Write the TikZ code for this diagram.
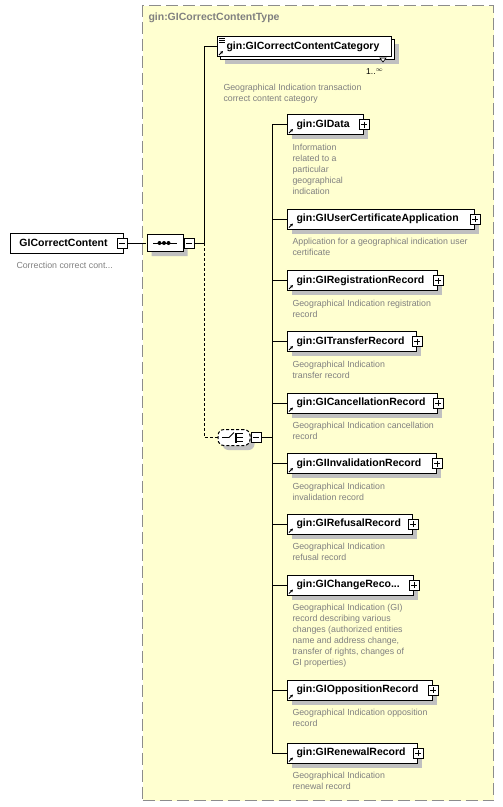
\documentclass[tikz,border=0pt]{standalone}
\usepackage{fontspec}
\setmainfont{Liberation Sans}
\usetikzlibrary{arrows.meta, positioning, shapes.misc, shadows}
\setlength{\parindent}{0pt}

\definecolor{typefill}{RGB}{255,255,208}
\definecolor{typeline}{RGB}{140,140,140}
\definecolor{descgray}{RGB}{128,128,128}
\definecolor{shadowgray}{RGB}{192,192,192}

\begin{document}
\begin{tikzpicture}[
  x=1pt, y=-1pt, line width=1pt,
  typebox/.style={draw=typeline, fill=typefill, dash pattern=on 12pt off 5pt, minimum width=351pt, minimum height=795pt, anchor=north west, inner sep=0pt},
  elem/.style={draw, fill=white, anchor=west, text width=#1, minimum height=20pt, inner xsep=0pt, inner ysep=0pt, align=left, font=\bfseries\fontsize{10.5}{12}\selectfont, execute at begin node={\hspace*{9pt}}},
  shade/.style={general shadow={fill=shadowgray, shadow xshift=4.5pt, shadow yshift=-4.5pt}},
  desc/.style={font=\fontsize{8.8}{11}\selectfont, text=descgray, align=left, inner sep=0pt},
  pm/.style={draw, fill=white, minimum size=10pt, inner sep=0pt, line width=0.8pt},
  plusbox/.style={pm, path picture={
    \draw ([xshift=2pt]path picture bounding box.west) -- ([xshift=-2pt]path picture bounding box.east)
          ([yshift=-2pt]path picture bounding box.north) -- ([yshift=2pt]path picture bounding box.south);}},
  minusbox/.style={pm, path picture={
    \draw ([xshift=2pt]path picture bounding box.west) -- ([xshift=-2pt]path picture bounding box.east);}},
  seqbox/.style={draw, fill=white, chamfered rectangle, chamfered rectangle xsep=5pt, chamfered rectangle ysep=5pt, minimum width=36pt, minimum height=17pt, inner sep=0pt},
  choicebox/.style={draw, fill=white, dash pattern=on 3pt off 2pt, rounded corners=6pt, minimum width=32pt, minimum height=16pt, inner sep=0pt},
  optline/.style={dash pattern=on 3pt off 2pt}
]
  \useasboundingbox (0,0) rectangle (503,807);

  % Complex type box
  \node[typebox] (ctype) at (142,5) {};
  \node[font=\bfseries\fontsize{10.5}{12}\selectfont, text=descgray, anchor=west, inner sep=0pt] (ctypelbl) at (148,18) {gin:GICorrectContentType};

  % Root element
  \node[elem=113] (root) at (10,243) {GICorrectContent};
  \node[minusbox] (root-m) at ([xshift=-2pt]root.east) {};
  \node[desc, below=8.5pt of root.south west, anchor=north west, xshift=6pt] (root-d) {Correction correct cont...};

  % Sequence
  \node[seqbox, shade] (seq) at (165,243) {};
  \draw ([xshift=-12pt]seq.center) -- ([xshift=12pt]seq.center);
  \foreach \dx in {-4.5,0,4.5}
    \fill ([xshift=\dx*1pt-1pt]seq.center) circle (2pt);
  \node[minusbox, anchor=west] (seq-m) at (seq.east) {};

  % Category (1..unbounded)
  \node[elem=174, shade] (catback) at (220,49.5) {};
  \node[elem=174] (cat) at (217,46.5) {gin:GICorrectContentCategory};
  \foreach \k in {2,4,6}
    \draw[line width=0.7pt] ([shift={(2pt,-\k*1pt)}]cat.north west) -- ++(6pt,0pt);
  \draw[fill=white, line width=0.6pt] ([shift={(-15pt,2pt)}]catback.south east) -- ++(6pt,0pt) -- ++(-3pt,-4pt) -- cycle;
  \node[font=\fontsize{8.5}{10}\selectfont, anchor=east, inner sep=0pt] (catocc) at ([shift={(-11pt,-11.5pt)}]catback.south east) {1..$^{\infty}$};
  \node[desc, below=27pt of cat.south west, anchor=north west, xshift=6pt] (cat-d) {Geographical Indication transaction\\correct content category};

  % Choice
  \node[choicebox, shade] (choice) at (234,437.5) {};
  \draw[line width=0.9pt] ([xshift=-12pt]choice.center) -- ++(7pt,0pt) -- ++(5pt,5pt);
  \draw[line width=1.4pt] ([shift={(2pt,-5pt)}]choice.center) -- ++(0pt,10pt);
  \foreach \dy in {-4,0,4}
    \draw[line width=0.9pt] ([shift={(2pt,\dy*1pt)}]choice.center) -- ++(7pt,0pt);
  \node[minusbox, anchor=west] (choice-m) at (choice.east) {};

  % Choice children
  \node[elem=76, shade] (gidata) at (287,124.5) {gin:GIData};
  \node[plusbox] (gidata-p) at (gidata.east) {};
  \node[desc, below=8.5pt of gidata.south west, anchor=north west, xshift=5pt] (gidata-d) {Information\\related to a\\particular\\geographical\\indication};

  \node[elem=187, shade] (giuser) at (287,219) {gin:GIUserCertificateApplication};
  \node[plusbox] (giuser-p) at (giuser.east) {};
  \node[desc, below=8.5pt of giuser.south west, anchor=north west, xshift=5pt] (giuser-d) {Application for a geographical indication user\\certificate};

  \node[elem=150, shade] (gireg) at (287,280.5) {gin:GIRegistrationRecord};
  \node[plusbox] (gireg-p) at (gireg.east) {};
  \node[desc, below=8.5pt of gireg.south west, anchor=north west, xshift=5pt] (gireg-d) {Geographical Indication registration\\record};

  \node[elem=129, shade] (gitrans) at (287,341.5) {gin:GITransferRecord};
  \node[plusbox] (gitrans-p) at (gitrans.east) {};
  \node[desc, below=8.5pt of gitrans.south west, anchor=north west, xshift=5pt] (gitrans-d) {Geographical Indication\\transfer record};

  \node[elem=150, shade] (gicanc) at (287,403) {gin:GICancellationRecord};
  \node[plusbox] (gicanc-p) at (gicanc.east) {};
  \node[desc, below=8.5pt of gicanc.south west, anchor=north west, xshift=5pt] (gicanc-d) {Geographical Indication cancellation\\record};

  \node[elem=149, shade] (giinval) at (287,463.5) {gin:GIInvalidationRecord};
  \node[plusbox] (giinval-p) at (giinval.east) {};
  \node[desc, below=8.5pt of giinval.south west, anchor=north west, xshift=5pt] (giinval-d) {Geographical Indication\\invalidation record};

  \node[elem=125, shade] (girefus) at (287,524) {gin:GIRefusalRecord};
  \node[plusbox] (girefus-p) at (girefus.east) {};
  \node[desc, below=8.5pt of girefus.south west, anchor=north west, xshift=5pt] (girefus-d) {Geographical Indication\\refusal record};

  \node[elem=126, shade] (gichange) at (287,585) {gin:GIChangeReco...};
  \node[plusbox] (gichange-p) at (gichange.east) {};
  \node[desc, below=8.5pt of gichange.south west, anchor=north west, xshift=5pt] (gichange-d) {Geographical Indication (GI)\\record describing various\\changes (authorized entities\\name and address change,\\transfer of rights, changes of\\GI properties)};

  \node[elem=145, shade] (giopp) at (287,690) {gin:GIOppositionRecord};
  \node[plusbox] (giopp-p) at (giopp.east) {};
  \node[desc, below=8.5pt of giopp.south west, anchor=north west, xshift=5pt] (giopp-d) {Geographical Indication opposition\\record};

  \node[elem=130, shade] (girenew) at (287,753) {gin:GIRenewalRecord};
  \node[plusbox] (girenew-p) at (girenew.east) {};
  \node[desc, below=8.5pt of girenew.south west, anchor=north west, xshift=5pt] (girenew-d) {Geographical Indication\\renewal record};

  % Reference arrows on elements
  \foreach \n in {cat, gidata, giuser, gireg, gitrans, gicanc, giinval, girefus, gichange, giopp, girenew}
    \draw[line width=0.8pt, -{Stealth[length=3pt,width=3pt]}] ([shift={(2pt,2pt)}]\n.south west) -- ++(4pt,4pt);

  % Connectors
  \draw (root-m) -- (seq);
  \draw[optline] (seq-m.east) -- ++(10,0) |- (choice.west);
  \draw (seq-m.east) -- ++(10,0) |- (cat.west);
  \foreach \n in {gidata, giuser, gireg, gitrans, gicanc, giinval, girefus, gichange, giopp, girenew}
    \draw (choice-m.east) -- ++(11,0) |- (\n.west);
\end{tikzpicture}
\end{document}
